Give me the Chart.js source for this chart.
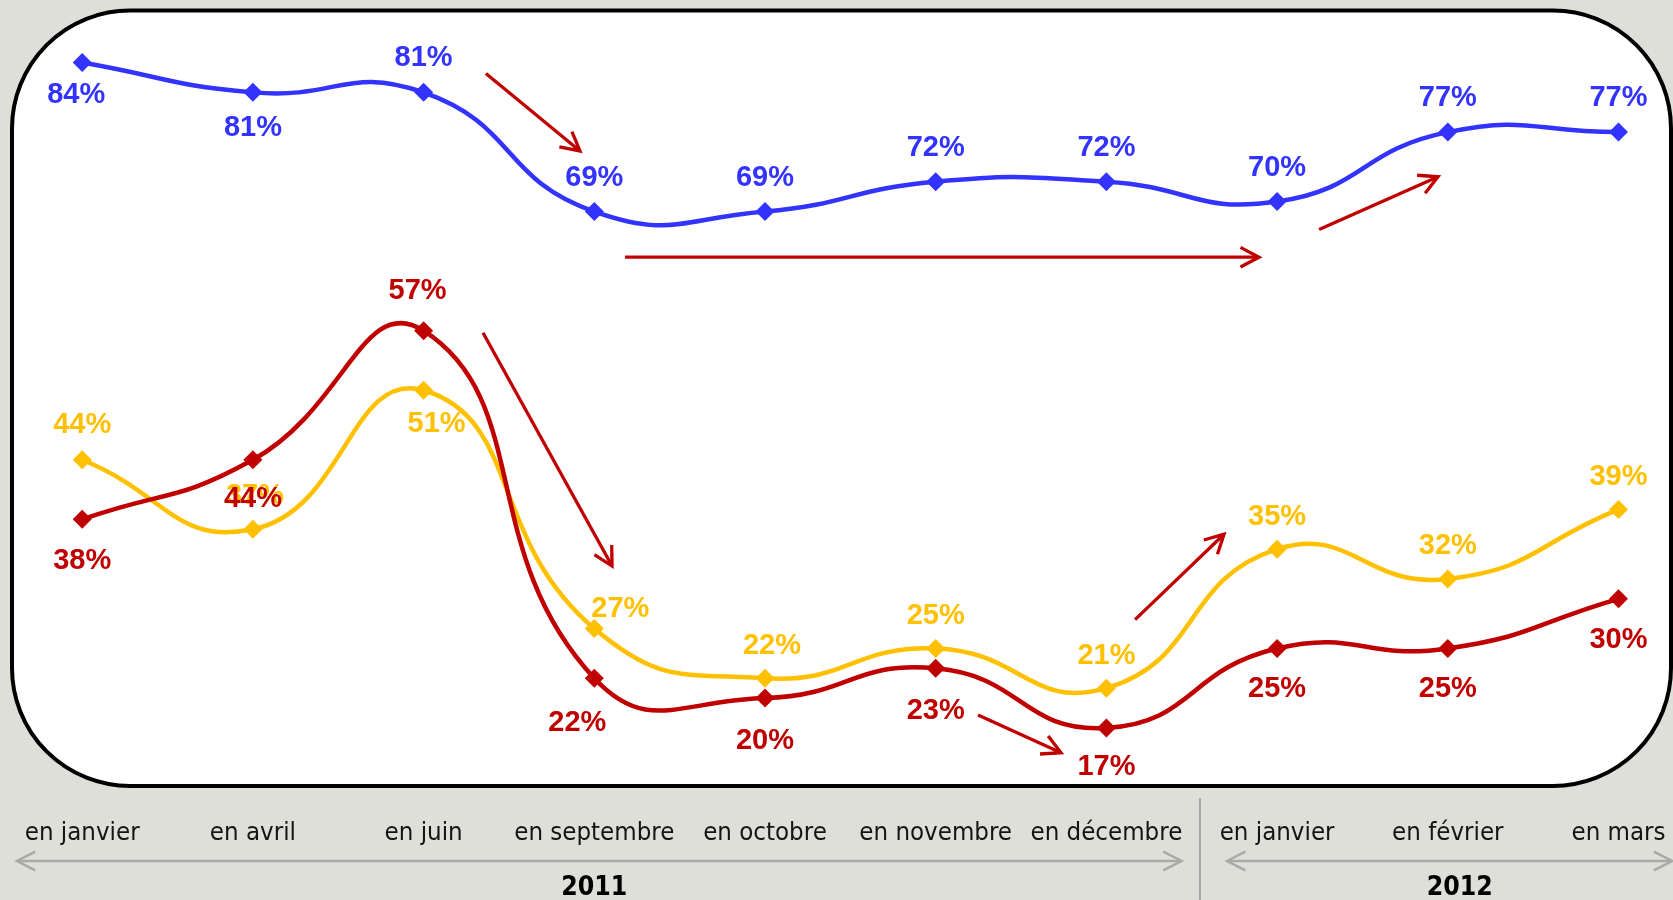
<!DOCTYPE html>
<html>
<head>
<meta charset="utf-8">
<script src="https://cdn.jsdelivr.net/npm/chart.js@4/dist/chart.umd.min.js"></script>
<style>
  html, body { margin: 0; padding: 0; background: #DFDFDA; overflow: hidden; }
  canvas { display: block; }
</style>
</head>
<body>
<canvas id="c" width="1673" height="900"></canvas>
<script>
// ---------------- DATA ----------------
const months = ['en janvier', 'en avril', 'en juin', 'en septembre', 'en octobre',
                'en novembre', 'en décembre', 'en janvier', 'en février', 'en mars'];
const years = ['2011', '2012'];
const blueValues   = [84, 81, 81, 69, 69, 72, 72, 70, 77, 77];
const yellowValues = [44, 37, 51, 27, 22, 25, 21, 35, 32, 39];
const redValues    = [38, 44, 57, 22, 20, 23, 17, 25, 25, 30];

// ---------------- STYLE / ANNOTATION PLACEMENT ----------------
const BLUE = '#3333FF', YELLOW = '#FFC000', RED = '#C00000', BG = '#DFDFDA';
const GREY = '#A9A9A9';
// label offsets [dx, dy] in px from the marker (to the cap-height centre of text)
const blueOffsets   = [[-6,30],[0,33],[0,-37],[0,-36],[0,-36],[0,-36],[0,-36],[0,-36],[0,-37],[0,-37]];
const yellowOffsets = [[0,-37],[2,-36],[13,31],[26,-22],[7,-35],[0,-35],[0,-35],[0,-35],[0,-35],[0,-35]];
const redOffsets    = [[0,39],[0,37],[-6,-42],[-17,42],[0,40],[0,40],[0,37],[0,38],[0,38],[0,39]];
// trend arrows in data space: [fromIndex, fromValue, toIndex, toValue]
const trendArrows = [
  [2.365, 82.9, 2.916, 75.1],
  [3.180, 64.4, 6.894, 64.4],
  [7.246, 67.2, 7.943, 72.5],
  [2.348, 56.8, 3.104, 33.3],
  [6.168, 27.9, 6.689, 36.5],
  [5.248, 18.3, 5.734, 14.5]
];
// year bands along the category axis (index units)
const yearBands = [
  { from: -0.382, to: 6.44, center: 3.0 },
  { from: 6.707, to: 9.314, center: 8.07 }
];
const yearDivider = 6.548;

// ---------------- FONT PICKING ----------------
function fitFont(cands, weight, sample, target) {
  const ctx = document.createElement('canvas').getContext('2d');
  ctx.font = `${weight} 100px monospace`;
  const base = ctx.measureText(sample).width;
  for (const fam of cands) {
    ctx.font = `${weight} 100px "${fam}", monospace`;
    const w = ctx.measureText(sample).width;
    if (Math.abs(w - base) > 0.5) return { family: `"${fam}"`, size: Math.round(1000 * target / w) / 10 };
  }
  ctx.font = `${weight} 100px sans-serif`;
  return { family: 'sans-serif', size: Math.round(1000 * target / ctx.measureText(sample).width) / 10 };
}
const tickFont = fitFont(['Liberation Sans Narrow', 'DejaVu Sans Condensed', 'Liberation Sans'], 'normal', 'en septembre', 160);
const yearFont = fitFont(['DejaVu Sans Condensed', 'Liberation Sans Narrow', 'Liberation Sans'], 'bold', '2011', 66);
const LABEL_FONT = 'bold 29px "Liberation Sans", Arial, sans-serif';

const AREA_TOP = 3, AREA_BOTTOM = 797.4, AREA_LEFT = 82.2, AREA_RIGHT = 1618.5;
const tickPad = (842.7 - AREA_BOTTOM) - 0.6 * tickFont.size - 0.35 * tickFont.size;

// ---------------- PLUGINS ----------------
function chevron(ctx, x, y, ang, len, spread) {
  ctx.beginPath();
  ctx.moveTo(x + len * Math.cos(ang + Math.PI - spread), y + len * Math.sin(ang + Math.PI - spread));
  ctx.lineTo(x, y);
  ctx.lineTo(x + len * Math.cos(ang + Math.PI + spread), y + len * Math.sin(ang + Math.PI + spread));
  ctx.stroke();
}

const framePlugin = {
  id: 'frame',
  beforeDraw(chart) {
    const { ctx, width, height } = chart;
    ctx.save();
    ctx.fillStyle = BG;
    ctx.fillRect(0, 0, width, height);
    ctx.beginPath();
    ctx.roundRect(12, 10.5, width - 14, 775.5, 118);
    ctx.fillStyle = '#FFFFFF';
    ctx.fill();
    ctx.lineWidth = 4;
    ctx.strokeStyle = '#000000';
    ctx.stroke();
    ctx.restore();
  }
};

const annotPlugin = {
  id: 'annot',
  afterDatasetsDraw(chart) {
    const { ctx } = chart;
    const xs = chart.scales.x, ys = chart.scales.y;
    ctx.save();
    // trend arrows
    ctx.strokeStyle = RED;
    ctx.lineWidth = 3.3;
    ctx.lineCap = 'butt';
    ctx.lineJoin = 'miter';
    for (const a of trendArrows) {
      const x0 = xs.getPixelForValue(a[0]), y0 = ys.getPixelForValue(a[1]);
      const x1 = xs.getPixelForValue(a[2]), y1 = ys.getPixelForValue(a[3]);
      ctx.beginPath();
      ctx.moveTo(x0, y0);
      ctx.lineTo(x1, y1);
      ctx.stroke();
      chevron(ctx, x1, y1, Math.atan2(y1 - y0, x1 - x0), 21, 28 * Math.PI / 180);
    }
    // data labels
    ctx.font = LABEL_FONT;
    ctx.textAlign = 'center';
    ctx.textBaseline = 'alphabetic';
    const sets = [[0, blueOffsets], [1, yellowOffsets], [2, redOffsets]];
    for (const [di, offs] of sets) {
      const meta = chart.getDatasetMeta(di);
      const ds = chart.data.datasets[di];
      ctx.fillStyle = ds.borderColor;
      meta.data.forEach((pt, i) => {
        const [dx, dy] = offs[i];
        ctx.fillText(ds.data[i] + '%', pt.x + dx, pt.y + dy + 0.36 * 29);
      });
    }
    ctx.restore();
  },
  afterDraw(chart) {
    const { ctx } = chart;
    const xs = chart.scales.x;
    ctx.save();
    ctx.strokeStyle = GREY;
    ctx.lineWidth = 2.5;
    const yLine = 861;
    yearBands.forEach((b, k) => {
      const x0 = xs.getPixelForValue(b.from), x1 = xs.getPixelForValue(b.to);
      ctx.beginPath();
      ctx.moveTo(x0, yLine);
      ctx.lineTo(x1, yLine);
      ctx.stroke();
      chevron(ctx, x0, yLine, Math.PI, 20.5, 27 * Math.PI / 180);
      chevron(ctx, x1, yLine, 0, 20.5, 27 * Math.PI / 180);
      ctx.fillStyle = '#000';
      ctx.font = `bold ${yearFont.size}px ${yearFont.family}`;
      ctx.textAlign = 'center';
      ctx.textBaseline = 'alphabetic';
      ctx.fillText(years[k], xs.getPixelForValue(b.center), 895);
    });
    const xd = xs.getPixelForValue(yearDivider);
    ctx.lineWidth = 2;
    ctx.strokeStyle = '#A6A6A6';
    ctx.beginPath();
    ctx.moveTo(xd, 798);
    ctx.lineTo(xd, 900);
    ctx.stroke();
    ctx.restore();
  }
};

// ---------------- CHART ----------------
function lineSet(label, values, color, order) {
  return {
    label, data: values, borderColor: color, backgroundColor: color,
    borderWidth: 4.5, tension: 0.5, pointStyle: 'rectRot', pointRadius: 9.5,
    pointBorderWidth: 0, pointBackgroundColor: color, fill: false, order
  };
}

new Chart(document.getElementById('c'), {
  type: 'line',
  data: {
    labels: months,
    datasets: [
      lineSet('blue', blueValues, BLUE, 2),
      lineSet('yellow', yellowValues, YELLOW, 1),
      lineSet('red', redValues, RED, 0)
    ]
  },
  options: {
    responsive: false,
    animation: false,
    devicePixelRatio: 1,
    layout: { autoPadding: false, padding: { top: AREA_TOP, left: AREA_LEFT, right: 1673 - AREA_RIGHT, bottom: 0 } },
    plugins: { legend: { display: false }, tooltip: { enabled: false } },
    scales: {
      x: {
        type: 'category',
        offset: false,
        grid: { display: false, drawTicks: false },
        border: { display: false },
        ticks: {
          font: { family: tickFont.family, size: tickFont.size },
          color: '#141414', padding: tickPad, maxRotation: 0, minRotation: 0, autoSkip: false
        },
        afterFit(s) { s.height = 900 - AREA_BOTTOM; s.paddingLeft = 0; s.paddingRight = 0; }
      },
      y: { display: false, min: 10, max: 90 }
    }
  },
  plugins: [framePlugin, annotPlugin]
});
</script>
</body>
</html>
